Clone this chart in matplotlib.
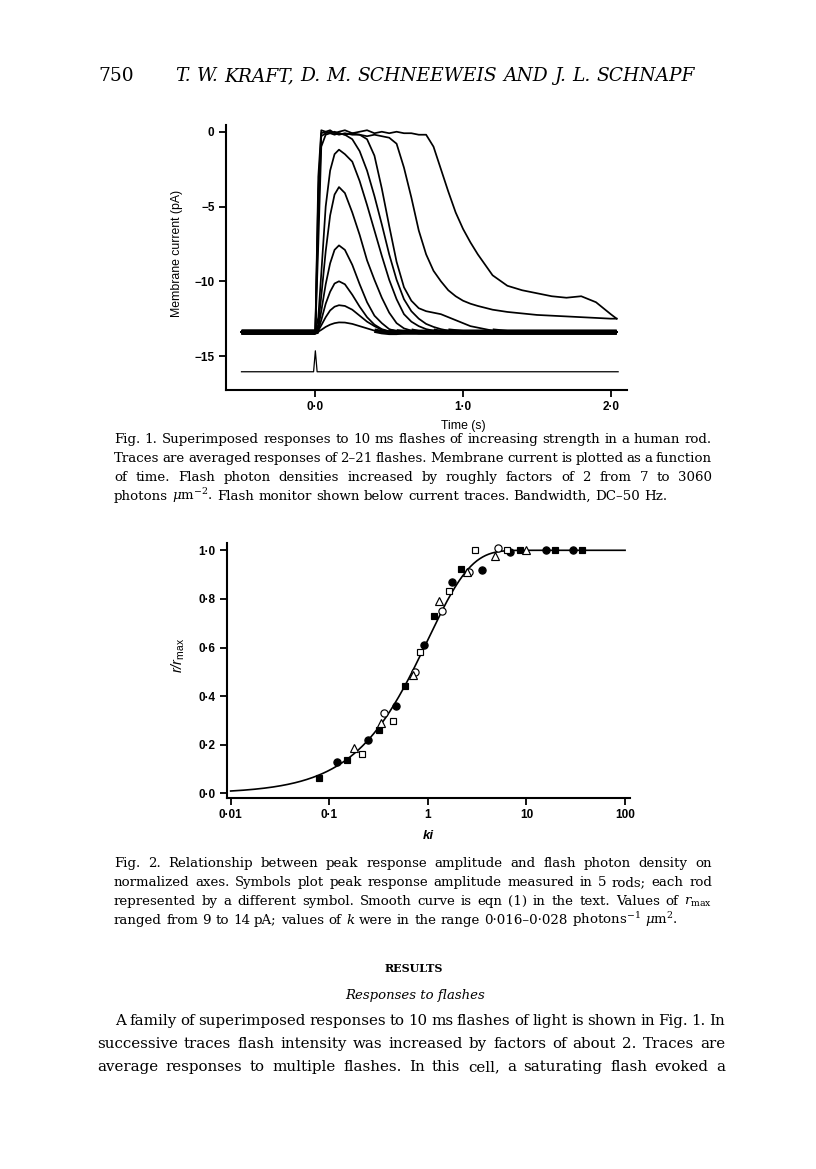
import numpy as np
import matplotlib
matplotlib.use("Agg")
import matplotlib.pyplot as plt
from matplotlib.ticker import NullLocator

# ---------------- Fig. 1 data (membrane current, pA) ----------------
t_grid = [-0.50, 0.00, 0.02, 0.04, 0.07, 0.10, 0.13, 0.16, 0.20, 0.25, 0.30, 0.35,
          0.40, 0.45, 0.50, 0.55, 0.60, 0.65, 0.70, 0.75, 0.80, 0.85, 0.90, 0.95,
          1.00, 1.05, 1.10, 1.20, 1.30, 1.40, 1.50, 1.60, 1.70, 1.80, 1.90, 2.00, 2.04]

trace_1 = [-13.4, -13.4, -13.37, -13.25, -13.05, -12.9, -12.8, -12.75, -12.76, -12.85, -13.0, -13.15,
           -13.3, -13.4, -13.45, -13.45, -13.4, -13.4, -13.4, -13.4, -13.4, -13.4, -13.4, -13.4,
           -13.4, -13.4, -13.4, -13.4, -13.4, -13.4, -13.4, -13.4, -13.4, -13.4, -13.4, -13.4, -13.4]
trace_2 = [-13.4, -13.4, -13.3, -12.95, -12.4, -11.95, -11.7, -11.6, -11.65, -11.9, -12.3, -12.7,
           -13.0, -13.25, -13.35, -13.4, -13.4, -13.4, -13.4, -13.4, -13.4, -13.4, -13.4, -13.4,
           -13.4, -13.4, -13.4, -13.4, -13.4, -13.4, -13.4, -13.4, -13.4, -13.4, -13.4, -13.4, -13.4]
trace_3 = [-13.4, -13.4, -13.25, -12.6, -11.5, -10.7, -10.15, -10.0, -10.2, -10.9, -11.7, -12.4,
           -12.9, -13.2, -13.35, -13.4, -13.4, -13.4, -13.4, -13.4, -13.4, -13.4, -13.4, -13.4,
           -13.4, -13.4, -13.4, -13.4, -13.4, -13.4, -13.4, -13.4, -13.4, -13.4, -13.4, -13.4, -13.4]
trace_4 = [-13.4, -13.4, -13.1, -12.0, -10.2, -8.8, -7.9, -7.6, -7.9, -8.9, -10.2, -11.4,
           -12.3, -12.8, -13.2, -13.35, -13.4, -13.4, -13.4, -13.4, -13.4, -13.4, -13.4, -13.4,
           -13.4, -13.4, -13.4, -13.4, -13.4, -13.4, -13.4, -13.4, -13.4, -13.4, -13.4, -13.4, -13.4]
trace_5 = [-13.4, -13.4, -12.9, -11.0, -8.0, -5.6, -4.2, -3.7, -4.1, -5.4, -6.9, -8.6,
           -9.9, -11.1, -12.1, -12.8, -13.15, -13.3, -13.4, -13.4, -13.4, -13.4, -13.4, -13.4,
           -13.4, -13.4, -13.4, -13.4, -13.4, -13.4, -13.4, -13.4, -13.4, -13.4, -13.4, -13.4, -13.4]
trace_6 = [-13.4, -13.4, -12.4, -9.5, -5.0, -2.6, -1.5, -1.2, -1.5, -2.0, -3.3, -4.9,
           -6.6, -8.3, -9.9, -11.2, -12.2, -12.7, -13.0, -13.2, -13.3, -13.4, -13.4, -13.4,
           -13.4, -13.4, -13.4, -13.4, -13.4, -13.4, -13.4, -13.4, -13.4, -13.4, -13.4, -13.4, -13.4]
trace_7 = [-13.4, -13.4, -7.5, -1.0, -0.2, -0.1, -0.2, -0.1, -0.2, -0.5, -1.3, -2.6,
           -4.3, -6.2, -8.2, -9.9, -11.2, -12.0, -12.5, -12.85, -13.05, -13.2, -13.3, -13.35,
           -13.4, -13.4, -13.4, -13.4, -13.4, -13.4, -13.4, -13.4, -13.4, -13.4, -13.4, -13.4, -13.4]
trace_8 = [-13.4, -13.4, -5.5, -0.3, -0.1, 0.0, -0.1, -0.2, -0.1, -0.2, -0.2, -0.5,
           -1.6, -3.8, -6.3, -8.7, -10.4, -11.3, -11.8, -12.0, -12.1, -12.2, -12.4, -12.6,
           -12.8, -13.0, -13.1, -13.3, -13.4, -13.4, -13.4, -13.4, -13.4, -13.4, -13.4, -13.4, -13.4]
trace_9 = [-13.4, -13.4, -4.0, -0.1, 0.0, -0.1, 0.0, -0.1, -0.2, -0.1, -0.2, -0.3,
           -0.2, -0.3, -0.4, -0.8, -2.4, -4.4, -6.6, -8.2, -9.3, -10.0, -10.6, -11.0,
           -11.3, -11.5, -11.65, -11.9, -12.05, -12.15, -12.25, -12.3, -12.35, -12.4, -12.45, -12.5, -12.5]
trace_10 = [-13.4, -13.4, -3.0, 0.1, 0.0, 0.1, -0.1, 0.0, 0.1, -0.1, 0.0, 0.1,
            -0.1, 0.0, -0.1, 0.0, -0.1, -0.1, -0.2, -0.2, -1.0, -2.5, -4.0, -5.4,
            -6.5, -7.4, -8.2, -9.6, -10.3, -10.6, -10.8, -11.0, -11.1, -11.0, -11.4, -12.2, -12.5]
traces = [trace_1, trace_2, trace_3, trace_4, trace_5, trace_6, trace_7, trace_8, trace_9, trace_10]

monitor_t = [-0.50, -0.012, 0.0, 0.012, 2.05]
monitor_y = [-16.05, -16.05, -14.65, -16.05, -16.05]

fig1_yticks = [0, -5, -10, -15]
fig1_yticklabels = ['0', '\u22125', '\u221210', '\u221215']
fig1_xticks = [0, 1, 2]
fig1_xticklabels = ['0\u00b70', '1\u00b70', '2\u00b70']

# ---------------- Fig. 2 data (r/rmax vs ki) ----------------
filled_sq_x = [0.079, 0.150, 0.32, 0.59, 1.16, 2.17, 8.5, 19.6, 36.9]
filled_sq_y = [0.062, 0.137, 0.261, 0.442, 0.731, 0.923, 1.0, 1.0, 1.0]
filled_ci_x = [0.12, 0.249, 0.479, 0.92, 1.75, 3.54, 6.8, 15.7, 29.4]
filled_ci_y = [0.130, 0.220, 0.36, 0.611, 0.871, 0.920, 0.992, 1.0, 1.0]
open_sq_x = [0.217, 0.447, 0.83, 1.62, 3.03, 6.3]
open_sq_y = [0.161, 0.299, 0.58, 0.831, 1.0, 1.0]
open_ci_x = [0.359, 0.734, 1.38, 2.64, 5.11]
open_ci_y = [0.33, 0.501, 0.751, 0.912, 1.01]
open_tr_x = [0.18, 0.337, 0.70, 1.31, 2.50, 4.80, 9.9]
open_tr_y = [0.185, 0.288, 0.488, 0.79, 0.909, 0.978, 1.0]

fig2_yticks = [0.0, 0.2, 0.4, 0.6, 0.8, 1.0]
fig2_yticklabels = ['0\u00b70', '0\u00b72', '0\u00b74', '0\u00b76', '0\u00b78', '1\u00b70']
fig2_xticks = [0.01, 0.1, 1, 10, 100]
fig2_xticklabels = ['0\u00b701', '0\u00b71', '1', '10', '100']

# ---------------- page texts ----------------
header_num = '750'
header_title = 'T. W. KRAFT,  D. M. SCHNEEWEIS  AND  J. L. SCHNAPF'
caption1 = [
    'Fig. 1. Superimposed responses to 10 ms flashes of increasing strength in a human rod.',
    'Traces are averaged responses of 2\u201321 flashes. Membrane current is plotted as a function',
    'of time. Flash photon densities increased by roughly factors of 2 from 7 to 3060',
    'photons $\\mu$m$^{-2}$. Flash monitor shown below current traces. Bandwidth, DC\u201350 Hz.',
]
caption2 = [
    'Fig. 2. Relationship between peak response amplitude and flash photon density on',
    'normalized axes. Symbols plot peak response amplitude measured in 5 rods; each rod',
    'represented by a different symbol. Smooth curve is eqn (1) in the text. Values of $r_{\\mathrm{max}}$',
    'ranged from 9 to 14 pA; values of $k$ were in the range 0\u00b7016\u20130\u00b7028 photons$^{-1}$ $\\mu$m$^{2}$.',
]
body = [
    'A family of superimposed responses to 10 ms flashes of light is shown in Fig. 1. In',
    'successive traces flash intensity was increased by factors of about 2. Traces are',
    'average responses to multiple flashes. In this cell, a saturating flash evoked a',
]

SERIF_NAME = 'DejaVu Serif'
plt.rcParams['mathtext.fontset'] = 'custom'
plt.rcParams['mathtext.rm'] = SERIF_NAME
plt.rcParams['mathtext.it'] = SERIF_NAME + ':italic'
plt.rcParams['mathtext.bf'] = 'Liberation Sans:italic'
plt.rcParams['mathtext.sf'] = 'Liberation Sans'

W, H = 816, 1169
fig = plt.figure(figsize=(W / 100, H / 100), dpi=100)
fig.patch.set_facecolor('white')


def fx(px):
    return px / W


def fy(py):
    return 1 - py / H


SANS = 'Liberation Sans'
SERIF = [SERIF_NAME, 'Liberation Serif']

# ---------------- Fig. 1 axes ----------------
ax1 = fig.add_axes([fx(225.7), fy(390), 401 / W, 265 / H])
for tr in traces:
    arr = np.asarray(tr)
    ax1.plot(t_grid, arr, color='black', lw=1.25, solid_joinstyle='round')
    # overlapping noisy traces make the resting level look like a thick band
    rest = np.where(arr <= -13.3, arr, np.nan)
    ax1.plot(t_grid, rest, color='black', lw=3.2, solid_capstyle='butt')
ax1.plot(monitor_t, monitor_y, color='black', lw=0.9)
ax1.set_xlim(-0.607, 2.108)
ax1.set_ylim(-17.27, 0.45)
ax1.set_yticks(fig1_yticks)
ax1.set_yticklabels(fig1_yticklabels)
ax1.set_xticks(fig1_xticks)
ax1.set_xticklabels(fig1_xticklabels)
ax1.set_ylabel('Membrane current (pA)', fontsize=8.8, family=SANS)
ax1.yaxis.set_label_coords(-0.106, 0.517)
ax1.set_xlabel('Time (s)', fontsize=8.8, family=SANS)
ax1.xaxis.set_label_coords(0.592, -0.115)

# ---------------- Fig. 2 axes ----------------
ax2 = fig.add_axes([fx(226.7), fy(798.3), 403.3 / W, 255.3 / H])
ki = np.logspace(-2, 2, 400)
ax2.plot(ki, 1 - np.exp(-ki), color='black', lw=1.2, zorder=2)
mk = dict(linestyle='none', mec='black', mew=0.85, zorder=3, clip_on=False)
ax2.plot(filled_sq_x, filled_sq_y, marker='s', ms=5.0, mfc='black', **mk)
ax2.plot(filled_ci_x, filled_ci_y, marker='o', ms=5.2, mfc='black', **mk)
ax2.plot(open_sq_x, open_sq_y, marker='s', ms=5.0, mfc='white', **mk)
ax2.plot(open_ci_x, open_ci_y, marker='o', ms=5.2, mfc='white', **mk)
ax2.plot(open_tr_x, open_tr_y, marker='^', ms=5.4, mfc='white', **mk)
ax2.set_xscale('log')
ax2.set_xlim(10 ** -2.04, 10 ** 2.05)
ax2.set_ylim(-0.02, 1.03)
ax2.set_xticks(fig2_xticks)
ax2.set_xticklabels(fig2_xticklabels)
ax2.xaxis.set_minor_locator(NullLocator())
ax2.set_yticks(fig2_yticks)
ax2.set_yticklabels(fig2_yticklabels)
ax2.set_ylabel(r'$\mathbf{r/r}_{\mathsf{max}}$', fontsize=10.5)
ax2.yaxis.set_label_coords(-0.098, 0.561)
ax2.set_xlabel('ki', fontsize=9.5, family=SANS, style='italic', weight='bold')
ax2.xaxis.set_label_coords(0.499, -0.124)

for ax in (ax1, ax2):
    for s in ('top', 'right'):
        ax.spines[s].set_visible(False)
    for s in ('left', 'bottom'):
        ax.spines[s].set_linewidth(1.5)
    ax.tick_params(direction='out', length=5, width=1.3, pad=3, labelsize=8.5)
    for lab in ax.get_xticklabels() + ax.get_yticklabels():
        lab.set_family(SANS)
        lab.set_weight('bold')

# ---------------- page text helpers ----------------
renderer = fig.canvas.get_renderer()


def measure(s, **kw):
    t = fig.text(0, 0, s, **kw)
    w = t.get_window_extent(renderer).width
    t.remove()
    return w


def natural_width(s, **kw):
    words = [w for w in s.split(' ') if w]
    gap = measure('a a', **kw) - measure('aa', **kw)
    return sum(measure(w, **kw) for w in words) + gap * (len(words) - 1)


def fit_size(lines, targets, **kw):
    kw = dict(kw)
    kw['fontsize'] = 10
    ratio = min(t / natural_width(s, **kw) for s, t in zip(lines, targets))
    return 10 * ratio


def put_line(s, x0, x1, yb, justify=True, **kw):
    words = [w for w in s.split(' ') if w]
    widths = [measure(w, **kw) for w in words]
    nat_gap = measure('a a', **kw) - measure('aa', **kw)
    if justify and len(words) > 1:
        gap = (x1 - x0 - sum(widths)) / (len(words) - 1)
        gap = max(gap, 0.6 * nat_gap)
    else:
        gap = nat_gap
    x = x0
    for w, wd in zip(words, widths):
        fig.text(fx(x), fy(yb), w, ha='left', va='baseline', **kw)
        x += wd + gap


# header
hsize = fit_size([header_title], [520], family=SERIF, style='italic')
fig.text(fx(98), fy(81), header_num, ha='left', va='baseline', family=SERIF, fontsize=hsize)
put_line(header_title, 175, 695, 81, justify=True, family=SERIF, fontsize=hsize, style='italic')

# captions
csize = 1.03 * fit_size(caption1[:3] + caption2[:3], [598] * 6, family=SERIF)
cap_kw = dict(family=SERIF, fontsize=csize)
for i, s in enumerate(caption1):
    put_line(s, 114, 712, 443 + 19 * i, justify=(i < len(caption1) - 1), **cap_kw)
for i, s in enumerate(caption2):
    put_line(s, 114, 712, 867 + 19 * i, justify=(i < len(caption2) - 1), **cap_kw)

# results
fig.text(fx(414), fy(972), 'RESULTS', ha='center', va='baseline', family=SERIF,
         fontsize=8, weight='bold')
bsize = 1.03 * fit_size(body, [610, 628, 628], family=SERIF)
fig.text(fx(415), fy(999), 'Responses to flashes', ha='center', va='baseline', family=SERIF,
         fontsize=0.88 * bsize, style='italic')
body_kw = dict(family=SERIF, fontsize=bsize)
put_line(body[0], 115, 725, 1025, **body_kw)
put_line(body[1], 97, 725, 1048, **body_kw)
put_line(body[2], 97, 725, 1071, **body_kw)

fig.savefig('out.png', dpi=100, facecolor='white')
